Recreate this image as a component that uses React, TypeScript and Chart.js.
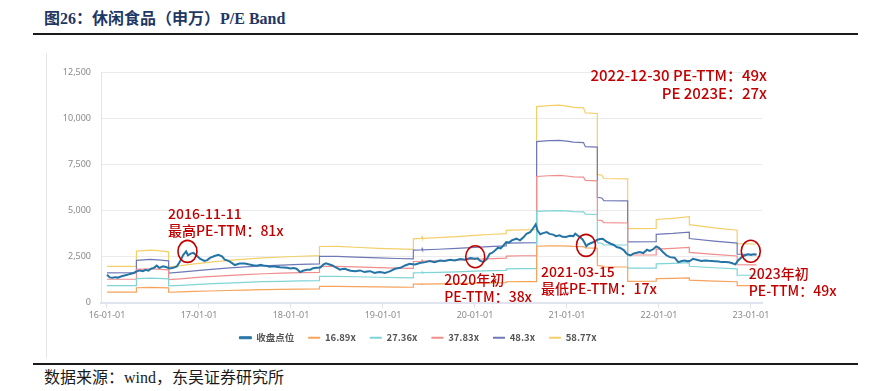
import React, { useEffect, useRef } from 'react';
import { Chart, registerables } from 'chart.js';

Chart.register(...registerables);

// ---------- data ----------
const seriesLabels = ['收盘点位', '16.89x', '27.36x', '37.83x', '48.3x', '58.77x'];
const peMultiples = [16.89, 27.36, 37.83, 48.3, 58.77];

// closing index (decimal years)
const closeYears = [
  2016.00, 2016.03, 2016.06, 2016.09, 2016.12, 2016.15, 2016.19, 2016.22, 2016.25, 2016.29,
  2016.32, 2016.36, 2016.39, 2016.42, 2016.45, 2016.48, 2016.51, 2016.54, 2016.57, 2016.61,
  2016.65, 2016.68, 2016.72, 2016.76, 2016.79, 2016.83, 2016.86, 2016.88, 2016.91, 2016.94,
  2016.97, 2017.01, 2017.06, 2017.09, 2017.12, 2017.17, 2017.21, 2017.25, 2017.28, 2017.31,
  2017.34, 2017.39, 2017.44, 2017.50, 2017.55, 2017.59, 2017.63, 2017.67, 2017.70, 2017.74,
  2017.77, 2017.81, 2017.84, 2017.88, 2017.92, 2017.96, 2017.99, 2018.03, 2018.06, 2018.10,
  2018.13, 2018.17, 2018.21, 2018.24, 2018.28, 2018.32, 2018.35, 2018.38, 2018.42, 2018.45,
  2018.48, 2018.51, 2018.53, 2018.56, 2018.59, 2018.62, 2018.65, 2018.70, 2018.75, 2018.80,
  2018.83, 2018.86, 2018.91, 2018.94, 2018.97, 2019.02, 2019.05, 2019.08, 2019.13, 2019.16,
  2019.19, 2019.24, 2019.29, 2019.32, 2019.35, 2019.40, 2019.46, 2019.51, 2019.56, 2019.62,
  2019.67, 2019.73, 2019.78, 2019.84, 2019.89, 2019.95, 2020.00, 2020.03, 2020.05, 2020.09,
  2020.13, 2020.16, 2020.19, 2020.22, 2020.25, 2020.28, 2020.31, 2020.34, 2020.37, 2020.40,
  2020.45, 2020.49, 2020.53, 2020.56, 2020.60, 2020.63, 2020.66, 2020.68, 2020.71, 2020.74,
  2020.78, 2020.81, 2020.85, 2020.88, 2020.92, 2020.95, 2020.99, 2021.03, 2021.07, 2021.09,
  2021.12, 2021.14, 2021.17, 2021.19, 2021.21, 2021.23, 2021.25, 2021.29, 2021.33, 2021.36,
  2021.39, 2021.41, 2021.43, 2021.47, 2021.51, 2021.54, 2021.58, 2021.62, 2021.64, 2021.66,
  2021.69, 2021.72, 2021.76, 2021.79, 2021.83, 2021.87, 2021.90, 2021.94, 2021.97, 2022.00,
  2022.04, 2022.08, 2022.12, 2022.17, 2022.21, 2022.25, 2022.28, 2022.31, 2022.34, 2022.37,
  2022.41, 2022.46, 2022.50, 2022.54, 2022.57, 2022.61, 2022.65, 2022.68, 2022.72, 2022.76,
  2022.79, 2022.83, 2022.86, 2022.90, 2022.93, 2022.97, 2023.00, 2023.03, 2023.06,
];
const closeValues = [
  1500, 1360, 1340, 1375, 1350, 1410, 1460, 1500, 1550, 1600,
  1680, 1740, 1700, 1775, 1730, 1830, 1880, 2000, 1880, 1960,
  1910, 1850, 1880, 1960, 2190, 2590, 2770, 2560, 2650, 2690,
  2560, 2380, 2250, 2300, 2420, 2520, 2590, 2500, 2320, 2280,
  2200, 2030, 2110, 2120, 2060, 2020, 1990, 2040, 2010, 1980,
  1940, 1970, 1940, 1910, 1900, 1880, 1850, 1870, 1830, 1650,
  1720, 1770, 1780, 1860, 1880, 1900, 2050, 2120, 2060, 2010,
  1920, 1850, 1780, 1820, 1830, 1760, 1720, 1700, 1740, 1650,
  1680, 1700, 1600, 1640, 1650, 1600, 1650, 1700, 1830, 1860,
  1880, 2010, 2100, 2080, 2060, 2140, 2190, 2250, 2190, 2280,
  2250, 2320, 2280, 2360, 2320, 2410, 2370, 2400, 2280, 2190,
  2370, 2640, 2700, 2830, 2970, 2930, 3100, 3280, 3250, 3370,
  3460, 3370, 3550, 3730, 3820, 4000, 4240, 3900, 3700, 3760,
  3820, 3720, 3680, 3600, 3640, 3560, 3550, 3620, 3600, 3730,
  3620, 3550, 3420, 3250, 3050, 3150, 3200, 3280, 3400, 3440,
  3460, 3380, 3300, 3200, 3120, 3010, 2960, 2830, 2700, 2610,
  2550, 2650, 2700, 2740, 2680, 2860, 2800, 2900, 3040, 2970,
  2750, 2560, 2460, 2430, 2190, 2250, 2280, 2240, 2260, 2370,
  2320, 2250, 2280, 2260, 2250, 2240, 2220, 2190, 2200, 2180,
  2140, 2070, 2280, 2460, 2550, 2610, 2580, 2620, 2590,
];

// EPS (TTM) behind the PE bands: band value = EPS x multiple
const epsYears = [
  2016.000, 2016.320, 2016.320, 2016.400, 2016.470, 2016.550, 2016.670, 2016.670, 2016.800, 2016.950,
  2017.100, 2017.300, 2017.500, 2017.700, 2017.900, 2018.100, 2018.310, 2018.310, 2018.500, 2018.700,
  2018.950, 2019.150, 2019.330, 2019.330, 2019.420, 2019.425, 2019.430, 2019.600, 2019.800, 2020.000,
  2020.200, 2020.340, 2020.340, 2020.500, 2020.670, 2020.670, 2020.800, 2020.920, 2021.020, 2021.070,
  2021.180, 2021.200, 2021.330, 2021.330, 2021.380, 2021.400, 2021.660, 2021.660, 2021.970, 2021.970,
  2022.150, 2022.330, 2022.330, 2022.600, 2022.850, 2022.850, 2023.060,
];
const epsValues = [
  33.3, 33.4, 47.4, 47.9, 48.4, 47.8, 46.8, 32.9, 34.0, 35.6,
  37.0, 38.6, 40.0, 41.2, 42.0, 42.7, 43.3, 51.7, 51.8, 51.0,
  50.0, 49.4, 49.0, 58.8, 59.1, 60.6, 59.2, 59.8, 60.8, 62.0,
  63.0, 63.6, 66.6, 67.0, 67.3, 180.7, 181.7, 182.1, 181.0, 180.0,
  179.6, 175.0, 174.4, 118.2, 117.4, 114.4, 114.0, 68.1, 68.3, 76.6,
  77.6, 79.1, 71.8, 68.9, 66.7, 54.4, 54.0,
];

const xTickYears = [2016, 2017, 2018, 2019, 2020, 2021, 2022, 2023];
const xTickLabels = ['16-01-01', '17-01-01', '18-01-01', '19-01-01', '20-01-01', '21-01-01', '22-01-01', '23-01-01'];
const yTickValues = [0, 2500, 5000, 7500, 10000, 12500];

// annotations: anchor (decimal year, index value) and text
const markYears = [2016.875, 2020.003, 2021.207, 2022.998];
const markValues = [2772, 2484, 3098, 2783];
const markTexts = [
  ['2016-11-11', '最高PE-TTM：81x'],
  ['2020年初', 'PE-TTM：38x'],
  ['2021-03-15', '最低PE-TTM：17x'],
  ['2023年初', 'PE-TTM：49x'],
];
const noteTexts = ['2022-12-30 PE-TTM：49x', 'PE 2023E：27x'];

// ---------- styles ----------
const seriesColors = ['#2474a6', '#f7a35c', '#7fd4d6', '#f08d8d', '#6f78b6', '#f3cf6a'];
const markOffsets = [
  { dx: -19.5, dy: -38 },
  { dx: -31, dy: 23 },
  { dx: -45, dy: 26 },
  { dx: -2, dy: 23 },
];
const RED = '#c00000';
const TICK_FONT = '"Noto Sans", "DejaVu Sans", sans-serif';
const CJK_FONT = '"Noto Sans CJK SC", "Noto Sans", sans-serif';

const annotationPlugin = {
  id: 'peAnnotations',
  beforeDraw(chart: any) {
    const lg = chart.legend;
    if (lg) {
      lg.left = 46;
      lg.right = 790;
    }
  },
  afterDatasetsDraw(chart: any) {
    const { ctx, scales, chartArea } = chart;
    const xs = scales.x;
    const ys = scales.y;
    ctx.save();
    ctx.font = `500 14px ${CJK_FONT}`;
    ctx.fillStyle = RED;
    ctx.strokeStyle = RED;
    ctx.lineWidth = 1.6;
    ctx.textBaseline = 'middle';
    markYears.forEach((t, i) => {
      const px = xs.getPixelForValue(t);
      const py = ys.getPixelForValue(markValues[i]);
      ctx.beginPath();
      ctx.ellipse(px, py, 9.5, 11, 0, 0, Math.PI * 2);
      ctx.stroke();
      const o = markOffsets[i];
      ctx.textAlign = 'left';
      markTexts[i].forEach((line, j) => {
        ctx.fillText(line, px + o.dx, py + o.dy + j * 17);
      });
    });
    ctx.textAlign = 'right';
    ctx.font = `500 15px ${CJK_FONT}`;
    noteTexts.forEach((line, j) => {
      ctx.fillText(line, chartArea.right + 5, chartArea.top + 3 + j * 18.5);
    });
    ctx.restore();
  },
};

function ChartCanvas() {
  const ref = useRef<HTMLCanvasElement | null>(null);
  useEffect(() => {
    if (!ref.current) return;
    const closeData = closeYears.map((t, i) => ({ x: t, y: closeValues[i] }));
    const bandSets = peMultiples.map((m, k) => ({
      label: seriesLabels[k + 1],
      data: epsYears.map((t, i) => ({ x: t, y: epsValues[i] * m })),
      borderColor: seriesColors[k + 1],
      backgroundColor: seriesColors[k + 1],
      borderWidth: 1.2,
      pointRadius: 0,
      tension: 0,
    }));
    const chart = new Chart(ref.current, {
      type: 'line',
      data: {
        datasets: [
          {
            label: seriesLabels[0],
            data: closeData,
            borderColor: seriesColors[0],
            backgroundColor: seriesColors[0],
            borderWidth: 2,
            pointRadius: 0,
            tension: 0,
          },
          ...bandSets,
        ],
      },
      options: {
        responsive: false,
        animation: false,
        events: [],
        layout: { padding: { left: 46, right: 114, top: 32, bottom: 7.5 } },
        plugins: {
          tooltip: { enabled: false },
          legend: {
            position: 'bottom',
            labels: {
              boxWidth: 12,
              boxHeight: 2,
              padding: 14,
              color: '#555555',
              font: { size: 9.5, weight: 'bold', family: CJK_FONT },
              generateLabels: (c: any) =>
                c.data.datasets.map((ds: any, i: number) => ({
                  text: ds.label,
                  fillStyle: ds.borderColor,
                  strokeStyle: ds.borderColor,
                  lineWidth: i === 0 ? 1 : 0,
                  hidden: false,
                  datasetIndex: i,
                  fontColor: '#555555',
                })),
            },
          },
        },
        scales: {
          x: {
            type: 'linear',
            min: 2015.935,
            max: 2023.12,
            afterBuildTicks: (s: any) => {
              s.ticks = xTickYears.map((v) => ({ value: v }));
            },
            afterFit: (s: any) => {
              s.height = 16.5;
            },
            ticks: {
              autoSkip: false,
              maxRotation: 0,
              minRotation: 0,
              padding: 2,
              color: '#8a8a8a',
              font: { size: 9, family: TICK_FONT },
              callback: (_v: any, i: number) => xTickLabels[i],
            },
            grid: { drawOnChartArea: false, drawTicks: true, tickLength: 6, color: '#dfe4ee', lineWidth: 1 },
            border: { display: true, color: '#dfe4ee', width: 2 },
          },
          y: {
            type: 'linear',
            min: 0,
            max: 12500,
            afterBuildTicks: (s: any) => {
              s.ticks = yTickValues.map((v) => ({ value: v }));
            },
            afterFit: (s: any) => {
              s.width = 55;
            },
            ticks: {
              padding: 10,
              color: '#8a8a8a',
              font: { size: 9, family: TICK_FONT },
              callback: (v: any) => Number(v).toLocaleString('en-US'),
            },
            grid: { color: '#ebebeb', lineWidth: 1, drawTicks: false },
            border: { display: true, color: '#dfe4ee', width: 1 },
          },
        },
      },
      plugins: [annotationPlugin],
    } as any);
    return () => chart.destroy();
  }, []);
  return (
    <canvas
      ref={ref}
      width={876}
      height={320}
      style={{ position: 'absolute', left: 0, top: 40, width: 876, height: 320 }}
    />
  );
}

export default function App() {
  return (
    <div
      style={{
        position: 'absolute',
        left: 0,
        top: 0,
        width: 876,
        height: 391,
        overflow: 'hidden',
        background: '#ffffff',
      }}
    >
      <div
        style={{
          position: 'absolute',
          left: 44,
          top: 8,
          height: 22,
          lineHeight: '22px',
          fontSize: 16,
          fontWeight: 'bold',
          color: '#1f3763',
          fontFamily: '"Liberation Serif", "Noto Sans CJK SC", serif',
          whiteSpace: 'nowrap',
        }}
      >
        图26：休闲食品（申万）P/E Band
      </div>
      <div style={{ position: 'absolute', left: 33, top: 33, width: 825, height: 2, background: '#1a1a1a' }} />
      <div style={{ position: 'absolute', left: 46, top: 53, width: 1, height: 305, background: '#e6e6e6' }} />
      <ChartCanvas />
      <div style={{ position: 'absolute', left: 33, top: 362.5, width: 825, height: 2, background: '#1a1a1a' }} />
      <div
        style={{
          position: 'absolute',
          left: 44,
          top: 367,
          height: 22,
          lineHeight: '22px',
          fontSize: 16,
          color: '#1a1a1a',
          fontFamily: '"Liberation Serif", "Noto Sans CJK SC", serif',
          whiteSpace: 'nowrap',
        }}
      >
        数据来源：wind，东吴证券研究所
      </div>
    </div>
  );
}
